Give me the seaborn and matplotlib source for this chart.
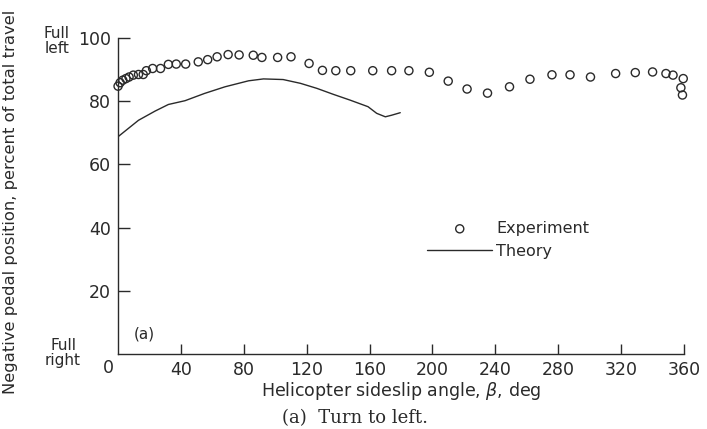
import matplotlib
matplotlib.use("Agg")
import matplotlib.pyplot as plt
import seaborn as sns
import pandas as pd

# experiment points (sideslip angle in deg, pedal position in %)
beta_exp = [0, 1.3, 3, 5, 7, 9.7, 13, 16, 18, 22, 27, 32, 37, 43, 51, 57, 63, 70, 77, 86,
            91.5, 101.5, 110, 121.5, 130, 138.5, 148, 162, 174, 185, 198, 210, 222, 235,
            249, 262, 276, 287.5, 300.5, 316.5, 329, 340, 348.5, 353, 359.5, 358, 359]
pedal_exp = [84.8, 85.9, 86.7, 87.2, 87.7, 88.3, 88.5, 88.5, 89.7, 90.4, 90.4, 91.7, 91.8,
             91.8, 92.5, 93.2, 94.1, 94.8, 94.7, 94.6, 93.9, 93.9, 94.1, 92.0, 89.8, 89.7,
             89.7, 89.7, 89.7, 89.7, 89.2, 86.4, 83.9, 82.6, 84.6, 87.0, 88.4, 88.4, 87.7,
             88.8, 89.1, 89.3, 88.8, 88.3, 87.2, 84.3, 82.0]

# theory curve
beta_th = [0, 13, 23.5, 32, 42.6, 55, 68, 83, 92.5, 105, 116, 126.5, 137, 147.5, 159,
           164.5, 170, 174, 179.5]
pedal_th = [68.8, 74.0, 76.9, 79.0, 80.2, 82.5, 84.6, 86.5, 87.1, 86.9, 85.7, 84.1, 82.2,
            80.4, 78.3, 76.2, 75.1, 75.6, 76.4]

x_ticks = [40, 80, 120, 160, 200, 240, 280, 320, 360]
y_ticks = [20, 40, 60, 80, 100]

exp = pd.DataFrame({"beta": beta_exp, "pedal": pedal_exp})
th = pd.DataFrame({"beta": beta_th, "pedal": pedal_th})

sns.set_style("ticks")
plt.rcParams["font.family"] = ["DejaVu Sans"]
ink = "#2a2a2a"

fig = plt.figure(figsize=(7.07, 4.29), dpi=100)
ax = fig.add_axes([0.167, 0.175, 0.8005, 0.736])

sns.scatterplot(data=exp, x="beta", y="pedal", ax=ax, marker="o", s=34,
                facecolor="none", edgecolor=ink, linewidth=1.0, label="Experiment",
                clip_on=False, zorder=3)
sns.lineplot(data=th, x="beta", y="pedal", ax=ax, sort=False, estimator=None,
             color=ink, linewidth=1.0, label="Theory")

ax.set_xlim(0, 360)
ax.set_ylim(0, 100)
ax.set_xticks(x_ticks)
ax.set_yticks(y_ticks)
ax.tick_params(axis="both", direction="in", colors=ink, labelsize=12.5, width=1.0)
ax.tick_params(axis="x", length=7, pad=5)
ax.tick_params(axis="y", length=8.5, pad=5)
for side in ["top", "right"]:
    ax.spines[side].set_visible(False)
for side in ["left", "bottom"]:
    ax.spines[side].set_color(ink)
    ax.spines[side].set_linewidth(1.0)

ax.set_xlabel(r"Helicopter sideslip angle, $\beta$, deg", fontsize=12.5, color=ink, labelpad=1)
ax.set_ylabel("Negative pedal position, percent of total travel", fontsize=11.8,
              color=ink)
ax.yaxis.set_label_coords(-0.177, 0.481)

ax.text(-6.4, -4.4, "0", fontsize=12.5, color=ink, ha="center", va="center", clip_on=False)
ax.text(-39, 99, "Full\nleft", fontsize=11, color=ink, ha="center", va="center",
        linespacing=1.0, clip_on=False)
ax.text(-35, 0.3, "Full\nright", fontsize=11, color=ink, ha="center", va="center",
        linespacing=1.0, clip_on=False)
ax.text(16.5, 6.3, "(a)", fontsize=11, color=ink, ha="center", va="center")

ax.legend(loc="upper left", bbox_to_anchor=(427 / 707, 1 - 221 / 429),
          bbox_transform=fig.transFigure, frameon=False, fontsize=11.5,
          handlelength=4.1, handletextpad=0.25, labelspacing=0.5,
          borderpad=0, borderaxespad=0, labelcolor=ink)

fig.text(355 / 707, 1 - 418 / 429, "(a)  Turn to left.", fontsize=13,
         family="DejaVu Serif", color=ink, ha="center", va="center")

fig.savefig("out.png", dpi=100, facecolor="white")
